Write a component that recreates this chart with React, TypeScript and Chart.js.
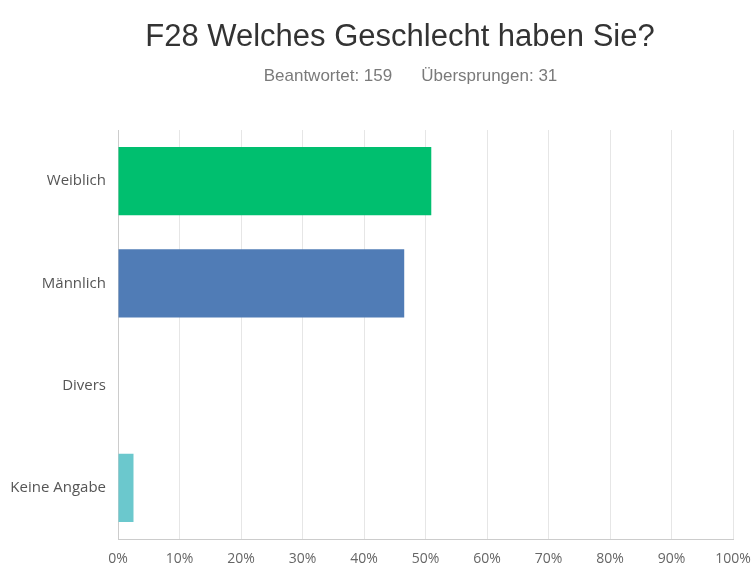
import React, { useEffect, useRef } from "react";
import { Chart, registerables } from "chart.js";

Chart.register(...registerables);

const categories = ["Weiblich", "Männlich", "Divers", "Keine Angabe"];
const percentages = [50.94, 46.54, 0, 2.52];
const barColors = ["#00bf6f", "#507cb6", "#6bc8cd", "#6bc8cd"];
const titleText = "F28 Welches Geschlecht haben Sie?";
const answeredText = "Beantwortet: 159";
const skippedText = "Übersprungen: 31";
const xTicks = [0, 10, 20, 30, 40, 50, 60, 70, 80, 90, 100];

export default function App() {
  const ref = useRef<HTMLCanvasElement>(null);
  useEffect(() => {
    if (!ref.current) return;
    const chart = new Chart(ref.current, {
      type: "bar",
      data: {
        labels: categories,
        datasets: [
          {
            data: percentages,
            backgroundColor: barColors,
            borderWidth: 0,
            categoryPercentage: 0.667,
            barPercentage: 1,
          },
        ],
      },
      options: {
        indexAxis: "y",
        animation: false,
        responsive: false,
        layout: { padding: { left: 0, right: 20, top: 130, bottom: 0 } },
        plugins: {
          legend: { display: false },
          tooltip: { enabled: false },
          title: { display: false },
        },
        scales: {
          x: {
            min: 0,
            max: 100,
            afterBuildTicks: (s: any) => {
              s.ticks = xTicks.map((v) => ({ value: v }));
            },
            afterFit: (s: any) => {
              s.paddingLeft = 0;
              s.paddingRight = 0;
              s.height = 25;
            },
            ticks: {
              callback: (v: any) => v + "%",
              color: "#666666",
              font: { family: "'Open Sans', sans-serif", size: 14 },
              padding: 12,
              maxRotation: 0,
              autoSkip: false,
            },
            grid: { color: "#e6e6e6", drawTicks: false, tickLength: 0 },
            border: { color: "#cccccc" },
          },
          y: {
            afterFit: (s: any) => {
              s.width = 118;
            },
            ticks: {
              color: "#555555",
              font: { family: "'Open Sans', sans-serif", size: 15 },
              padding: 12,
            },
            grid: { display: false, drawTicks: false, tickLength: 0 },
            border: { color: "#cccccc" },
          },
        },
      },
    });
    return () => chart.destroy();
  }, []);
  const textFont = "'Liberation Sans', Arial, sans-serif";
  return (
    <div
      style={{
        position: "fixed",
        left: 0,
        top: 0,
        width: 753,
        height: 564,
        background: "#ffffff",
        overflow: "hidden",
      }}
    >
      <canvas ref={ref} width={753} height={564} style={{ display: "block", position: "absolute", left: 0, top: 0 }} />
      <div
        style={{
          position: "absolute",
          left: 0,
          top: 17,
          width: 800,
          textAlign: "center",
          fontFamily: textFont,
          fontSize: 31,
          lineHeight: "37px",
          color: "#333333",
          whiteSpace: "nowrap",
        }}
      >
        {titleText}
      </div>
      <div
        style={{
          position: "absolute",
          left: 0,
          top: 66,
          width: 821,
          textAlign: "center",
          fontFamily: textFont,
          fontSize: 17,
          lineHeight: "20px",
          color: "#7a7a7a",
          whiteSpace: "nowrap",
        }}
      >
        <span>{answeredText}</span>
        <span style={{ marginLeft: 29 }}>{skippedText}</span>
      </div>
    </div>
  );
}
